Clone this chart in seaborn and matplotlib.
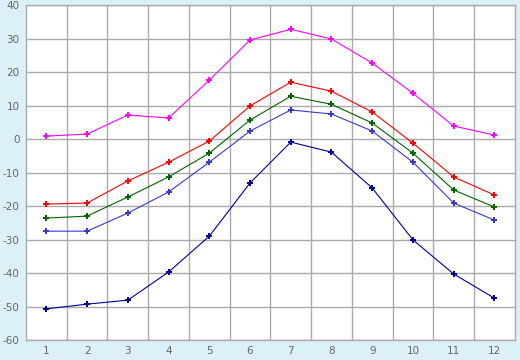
import pandas as pd
import matplotlib.pyplot as plt
import seaborn as sns

# --- data ---
months = [1, 2, 3, 4, 5, 6, 7, 8, 9, 10, 11, 12]
s_max = [0.9, 1.5, 7.2, 6.3, 17.6, 29.6, 32.8, 29.9, 22.7, 13.7, 3.9, 1.2]
s_high = [-19.4, -19.1, -12.5, -6.9, -0.6, 9.9, 17.0, 14.3, 8.1, -1.2, -11.3, -16.7]
s_mean = [-23.6, -23.0, -17.3, -11.3, -4.2, 5.7, 12.8, 10.4, 4.8, -4.2, -15.2, -20.3]
s_low = [-27.5, -27.5, -22.1, -15.8, -6.9, 2.4, 8.7, 7.5, 2.4, -6.9, -19.1, -24.2]
s_min = [-50.7, -49.3, -48.1, -39.7, -29.0, -13.1, -0.9, -3.9, -14.6, -30.1, -40.3, -47.5]

series = {"max": s_max, "high": s_high, "mean": s_mean, "low": s_low, "min": s_min}
colors = {"max": "#ff00ff", "high": "#ff0000", "mean": "#006400",
          "low": "#3a3acc", "min": "#000099"}

rows = []
for name, vals in series.items():
    for m, v in zip(months, vals):
        rows.append({"month": m, "value": v, "series": name})
df = pd.DataFrame(rows)

sns.set_style("white")
plt.rcParams["axes.unicode_minus"] = False
fig = plt.figure(figsize=(5.2, 3.6), dpi=100, facecolor="#dcf0f7")
ax = fig.add_axes([0.05, 0.0556, 0.94, 0.93])
ax.set_facecolor("white")

sns.lineplot(data=df, x="month", y="value", hue="series", palette=colors,
             marker="P", markersize=4.5, markeredgewidth=0, linewidth=0.8,
             legend=False, ax=ax)

ax.set_xlim(0.5, 12.5)
ax.set_ylim(-60, 40)
ax.set_xticks(months)
ax.set_xticks([m + 0.5 for m in months[:-1]], minor=True)
ax.set_yticks(range(-60, 41, 10))
ax.grid(False)
ax.grid(True, which="minor", axis="x", color="#aaaaaa", linewidth=1)
ax.grid(True, which="major", axis="y", color="#aaaaaa", linewidth=1)
ax.set_axisbelow(True)
ax.tick_params(axis="both", which="major", colors="#aaaaaa", labelcolor="#666666",
               labelsize=7.5, length=3, width=1, direction="out", pad=1.5)
ax.tick_params(axis="x", which="minor", length=0)
ax.set_xlabel("")
ax.set_ylabel("")
for sp in ax.spines.values():
    sp.set_color("#aaaaaa")
    sp.set_linewidth(1)

plt.savefig("out.png", facecolor=fig.get_facecolor())
